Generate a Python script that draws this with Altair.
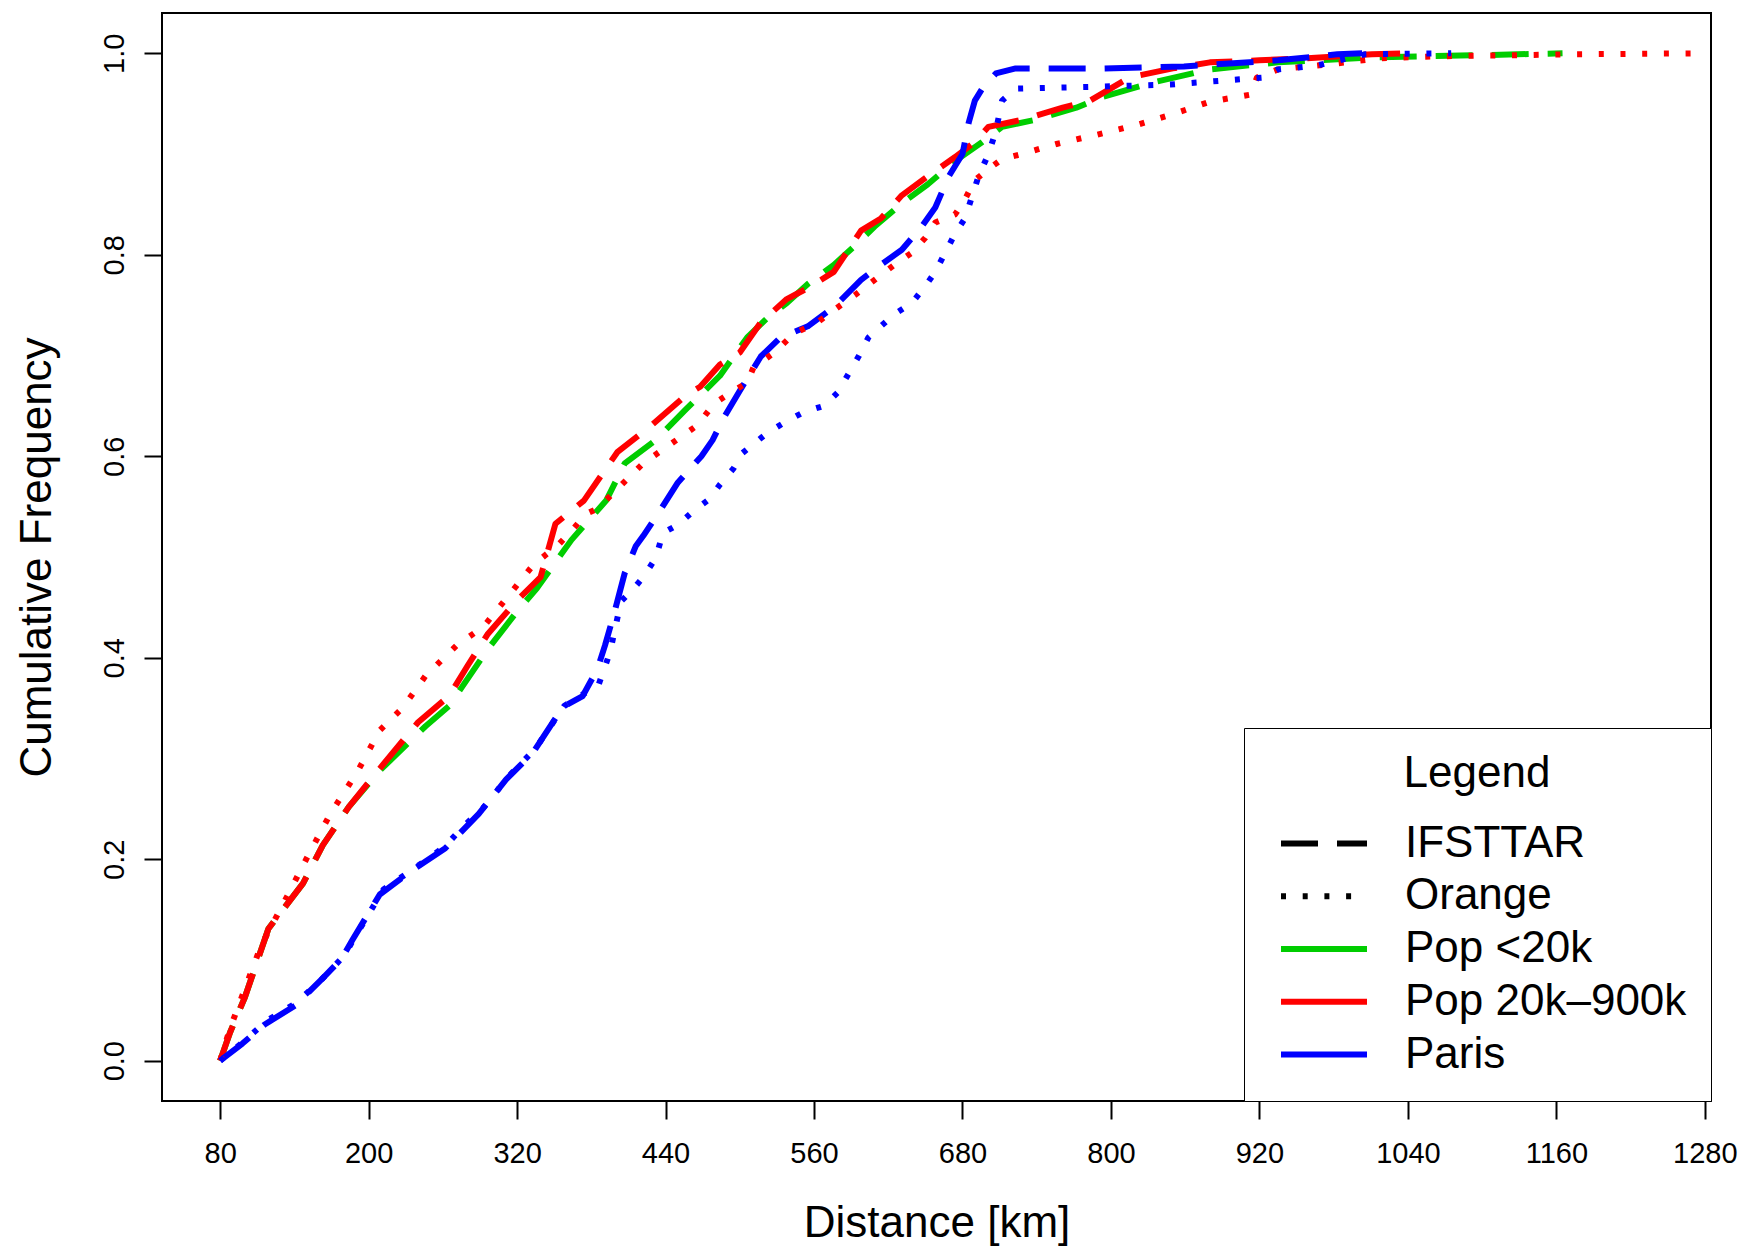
import altair as alt
import pandas as pd

# ---- legend entries / styling domain ----
entries = ["IFSTTAR", "Orange", "Pop <20k", "Pop 20k–900k", "Paris"]
entry_colors = ["black", "black", "#00CD00", "#FF0000", "#0000FF"]
entry_dashes = [[37, 19], [5, 16.7], [1, 0], [1, 0], [1, 0]]

x_ticks = [80, 200, 320, 440, 560, 680, 800, 920, 1040, 1160, 1280]
y_ticks = [0.0, 0.2, 0.4, 0.6, 0.8, 1.0]

# ---- IFSTTAR, Pop 20k–900k (red dashed) ----
ifs_red_km = [80, 88, 100, 119, 147, 163, 184, 209, 240, 265, 280, 296, 320, 339, 351, 374, 401, 429, 457, 468,
              484, 500, 517, 538, 555, 576, 598, 614, 631, 652, 674, 690, 701, 728, 761, 783, 815, 850, 880, 920,
              956, 1011, 1038]
ifs_red_cf = [0.0, 0.028, 0.063, 0.131, 0.176, 0.214, 0.252, 0.290, 0.336, 0.362, 0.392, 0.423, 0.457, 0.480, 0.533,
              0.556, 0.604, 0.631, 0.661, 0.669, 0.691, 0.703, 0.733, 0.756, 0.767, 0.783, 0.824, 0.836, 0.859,
              0.878, 0.897, 0.912, 0.927, 0.934, 0.946, 0.953, 0.976, 0.985, 0.991, 0.993, 0.995, 0.999, 1.0]

# ---- IFSTTAR, Pop <20k (green dashed) ----
ifs_green_km = [80, 88, 100, 119, 147, 163, 184, 209, 246, 265, 296, 320, 336, 364, 392, 407, 432, 456, 484, 506,
                522, 538, 555, 576, 593, 609, 631, 652, 674, 696, 712, 739, 772, 794, 837, 880, 935, 1011, 1092, 1165]
ifs_green_cf = [0.0, 0.028, 0.063, 0.131, 0.176, 0.214, 0.252, 0.288, 0.332, 0.352, 0.408, 0.446, 0.469, 0.517,
                0.556, 0.593, 0.616, 0.646, 0.680, 0.718, 0.737, 0.752, 0.771, 0.790, 0.809, 0.828, 0.851, 0.870,
                0.893, 0.912, 0.927, 0.934, 0.946, 0.957, 0.972, 0.984, 0.991, 0.996, 0.998, 1.0]

# ---- IFSTTAR, Paris (blue dashed) ----
ifs_blue_km = [80, 98, 116, 141, 163, 178, 187, 209, 234, 262, 274, 289, 311, 333, 357, 373, 385, 391, 398, 407,
               416, 422, 435, 450, 469, 478, 487, 500, 517, 533, 555, 576, 598, 614, 631, 647, 658, 669, 680, 685,
               690, 696, 707, 723, 794, 859, 935, 983, 1003]
ifs_blue_cf = [0.0, 0.017, 0.036, 0.055, 0.082, 0.101, 0.120, 0.165, 0.188, 0.211, 0.226, 0.245, 0.279, 0.306,
               0.351, 0.362, 0.389, 0.412, 0.442, 0.484, 0.511, 0.521, 0.545, 0.574, 0.600, 0.616, 0.638, 0.665,
               0.699, 0.718, 0.729, 0.748, 0.775, 0.790, 0.805, 0.828, 0.847, 0.878, 0.900, 0.931, 0.953, 0.965,
               0.980, 0.985, 0.985, 0.987, 0.993, 0.999, 1.0]

# ---- Orange, Pop 20k–900k (red dotted) ----
ora_red_km = [80, 88, 113, 132, 150, 169, 191, 209, 228, 246, 271, 293, 333, 354, 364, 376, 385, 422, 444, 466,
              479, 495, 506, 511, 528, 544, 563, 576, 593, 609, 625, 639, 650, 658, 674, 682, 690, 701, 712, 728,
              756, 788, 821, 851, 880, 913, 918, 935, 983, 1016, 1065, 1119, 1173, 1280]
ora_red_cf = [0.0, 0.032, 0.114, 0.158, 0.201, 0.245, 0.287, 0.328, 0.351, 0.382, 0.412, 0.431, 0.492, 0.513,
              0.526, 0.543, 0.548, 0.593, 0.612, 0.631, 0.652, 0.665, 0.673, 0.688, 0.703, 0.722, 0.733, 0.745,
              0.760, 0.775, 0.790, 0.802, 0.817, 0.832, 0.840, 0.855, 0.874, 0.885, 0.895, 0.900, 0.910, 0.919,
              0.929, 0.940, 0.952, 0.959, 0.976, 0.984, 0.990, 0.995, 0.997, 0.998, 0.999, 1.0]

# ---- Orange, Paris (blue dotted) ----
ora_blue_km = [80, 98, 118, 141, 160, 180, 190, 212, 236, 262, 276, 292, 313, 335, 358, 375, 385, 395, 404, 413,
               422, 432, 438, 450, 462, 475, 484, 495, 502, 511, 522, 538, 552, 568, 579, 587, 596, 604, 614, 625,
               639, 650, 658, 666, 674, 682, 688, 693, 701, 707, 712, 723, 794, 848, 902, 924, 935, 967, 1005, 1075]
ora_blue_cf = [0.0, 0.018, 0.040, 0.057, 0.078, 0.104, 0.125, 0.170, 0.190, 0.213, 0.232, 0.250, 0.282, 0.310,
               0.352, 0.365, 0.370, 0.405, 0.456, 0.467, 0.480, 0.499, 0.524, 0.532, 0.545, 0.557, 0.572, 0.588,
               0.603, 0.612, 0.623, 0.635, 0.644, 0.650, 0.663, 0.680, 0.699, 0.718, 0.729, 0.741, 0.752, 0.769,
               0.783, 0.802, 0.821, 0.836, 0.859, 0.878, 0.900, 0.923, 0.953, 0.965, 0.967, 0.969, 0.974, 0.976,
               0.984, 0.988, 0.999, 1.0]

series = [
    ("IFSTTAR", "Pop <20k", ifs_green_km, ifs_green_cf),
    ("IFSTTAR", "Pop 20k–900k", ifs_red_km, ifs_red_cf),
    ("IFSTTAR", "Paris", ifs_blue_km, ifs_blue_cf),
    ("Orange", "Pop 20k–900k", ora_red_km, ora_red_cf),
    ("Orange", "Paris", ora_blue_km, ora_blue_cf),
]

rows = []
for src, grp, kms, cfs in series:
    for k, c in zip(kms, cfs):
        rows.append({"source": src, "group": grp, "series": src + " " + grp, "km": k, "cf": c})
df = pd.DataFrame(rows)

FONT = "Liberation Sans"

legend = alt.Legend(
    title="Legend", orient="bottom-right", offset=0,
    symbolType="M-2,0L2,0", symbolSize=1849, symbolStrokeWidth=6, symbolOffset=31.5,
    labelFontSize=44, titleFontSize=44, titleFontWeight="normal",
    titleAnchor="middle", titleColor="black", labelColor="black",
    labelFont=FONT, titleFont=FONT,
    padding=24, rowPadding=5.75, titlePadding=23,
    strokeColor="black", fillColor="white", labelOffset=56.5, labelLimit=600,
)

chart = alt.Chart(df).mark_line(strokeWidth=6, strokeCap="butt", strokeJoin="round", clip=True).encode(
    x=alt.X("km:Q",
            scale=alt.Scale(domain=[33, 1285], nice=False, zero=False),
            axis=alt.Axis(values=x_ticks, format="d", title="Distance [km]", grid=False, domain=False,
                          tickSize=18, tickWidth=2, tickColor="black",
                          labelFontSize=29, labelFont=FONT, labelColor="black", labelPadding=20,
                          labelFlush=False, labelOverlap=False,
                          titleFontSize=44, titleFont=FONT, titleFontWeight="normal", titleColor="black",
                          titleY=135, titleBaseline="alphabetic")),
    y=alt.Y("cf:Q",
            scale=alt.Scale(domain=[-0.04, 1.04], nice=False, zero=False),
            axis=alt.Axis(values=y_ticks, format=".1f", title="Cumulative Frequency", grid=False, domain=False,
                          tickSize=18, tickWidth=2, tickColor="black",
                          labelFontSize=29, labelFont=FONT, labelColor="black",
                          labelAngle=270, labelAlign="center", labelBaseline="alphabetic", labelPadding=21,
                          labelFlush=False, labelOverlap=False,
                          titleFontSize=44, titleFont=FONT, titleFontWeight="normal", titleColor="black",
                          titleX=-112, titleBaseline="alphabetic", titleAngle=270, titleAlign="center")),
    color=alt.Color("group:N", scale=alt.Scale(domain=entries, range=entry_colors), legend=legend),
    strokeDash=alt.StrokeDash("source:N", scale=alt.Scale(domain=entries, range=entry_dashes), legend=legend),
    detail="series:N",
).properties(
    width=1549, height=1088,
    autosize=alt.AutoSizeParams(type="none"),
    padding={"left": 154, "top": 5, "right": 28, "bottom": 150},
    background="white",
).configure_view(stroke="black", strokeWidth=2)

chart.save("out.html", embed_options={"renderer": "svg", "actions": False})
